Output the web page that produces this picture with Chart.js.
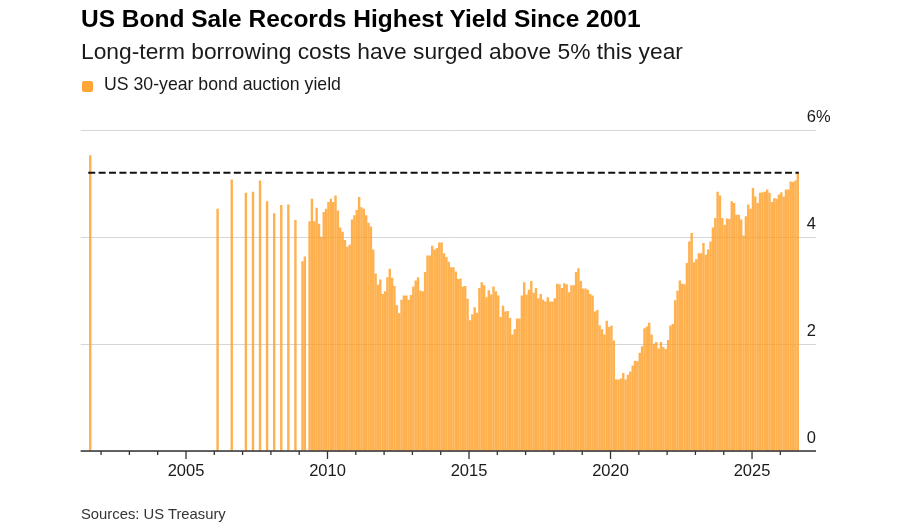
<!DOCTYPE html>
<html>
<head>
<meta charset="utf-8">
<script src="https://cdn.jsdelivr.net/npm/chart.js@4/dist/chart.umd.min.js"></script>
<style>
html,body{margin:0;padding:0;background:#fff;}
#wrap{position:relative;width:900px;height:531px;overflow:hidden;font-family:"Liberation Sans",Arial,Helvetica,sans-serif;}
#c{position:absolute;left:0;top:0;}
.t{position:absolute;white-space:nowrap;line-height:1;}
#title{left:81px;top:6.6px;font-size:24.5px;font-weight:bold;color:#000;}
#subtitle{left:81px;top:40.2px;font-size:22.8px;color:#1a1a1a;}
#legsw{position:absolute;left:82px;top:81px;width:11px;height:11px;border-radius:2px;background:#ffa635;}
#legtx{left:104px;top:75.8px;font-size:17.7px;color:#1a1a1a;}
#source{left:81px;top:506.8px;font-size:14.8px;color:#333;}
</style>
</head>
<body>
<div id="wrap">
  <canvas id="c" width="900" height="531"></canvas>
  <div class="t" id="title">US Bond Sale Records Highest Yield Since 2001</div>
  <div class="t" id="subtitle">Long-term borrowing costs have surged above 5% this year</div>
  <div id="legsw"></div>
  <div class="t" id="legtx">US 30-year bond auction yield</div>
  <div class="t" id="source">Sources: US Treasury</div>
</div>
<script>
// ---- Data ----
// Sparse auctions before monthly issuance resumed
const earlyMonths = ["2001-08","2006-02","2006-08","2007-02","2007-05","2007-08","2007-11","2008-02","2008-05","2008-08","2008-11"];
const earlyYields = [5.52, 4.52, 5.07, 4.82, 4.84, 5.05, 4.66, 4.44, 4.59, 4.60, 4.31];

// Monthly auctions starting Feb 2009 (null = no auction that month)
const monthlyStart = "2009-02";
const yields2009 = [3.54, 3.63, null, 4.29, 4.71, 4.29, 4.54, 4.24, 4.00, 4.46, 4.52];
const yields2010 = [4.65, 4.71, 4.65, 4.77, 4.49, 4.17, 4.09, 3.94, 3.81, 3.85, 4.32, 4.40];
const yields2011 = [4.50, 4.74, 4.55, 4.52, 4.40, 4.26, 4.19, 3.76, 3.31, 3.10, 3.20, 2.93];
const yields2012 = [2.98, 3.24, 3.40, 3.23, 3.08, 2.72, 2.57, 2.82, 2.90, 2.90, 2.82, 2.91];
const yields2013 = [3.07, 3.18, 3.24, 2.99, 2.98, 3.34, 3.65, 3.65, 3.83, 3.76, 3.79, 3.89];
const yields2014 = [3.89, 3.69, 3.62, 3.53, 3.43, 3.43, 3.35, 3.21, 3.22, 3.07, 3.08, 2.84];
const yields2015 = [2.44, 2.55, 2.68, 2.58, 3.04, 3.15, 3.09, 2.87, 3.00, 2.92, 3.07, 2.98];
const yields2016 = [2.90, 2.50, 2.71, 2.60, 2.61, 2.48, 2.17, 2.27, 2.47, 2.47, 2.90, 3.15];
const yields2017 = [2.92, 3.01, 3.17, 2.95, 3.04, 2.85, 2.93, 2.82, 2.79, 2.87, 2.79, 2.79];
const yields2018 = [2.85, 3.12, 3.11, 3.04, 3.13, 3.11, 2.96, 3.09, 3.09, 3.34, 3.41, 3.17];
const yields2019 = [3.03, 3.03, 3.01, 2.93, 2.90, 2.60, 2.63, 2.34, 2.27, 2.17, 2.43, 2.31];
const yields2020 = [2.34, 2.06, 1.33, 1.33, 1.35, 1.45, 1.33, 1.42, 1.48, 1.59, 1.68, 1.67];
const yields2021 = [1.83, 1.95, 2.29, 2.32, 2.39, 2.17, 2.00, 2.03, 1.91, 2.03, 1.94, 1.90];
const yields2022 = [2.07, 2.34, 2.37, 2.81, 2.99, 3.18, 3.12, 3.11, 3.51, 3.91, 4.07, 3.52];
const yields2023 = [3.58, 3.69, 3.69, 3.88, 3.66, 3.76, 3.91, 4.17, 4.35, 4.84, 4.77, 4.35];
const yields2024 = [4.22, 4.34, 4.33, 4.66, 4.63, 4.41, 4.41, 4.32, 4.02, 4.38, 4.60, 4.52];
const yields2025 = [4.91, 4.75, 4.63, 4.82, 4.83, 4.84, 4.88, 4.82, 4.65, 4.72, 4.71, 4.79];
const yields2026 = [4.83, 4.75, 4.88, 4.88, 5.03, 5.02, 5.05, 5.20];

const latestLevel = 5.20;             // dashed reference line
const yTicks = [0, 2, 4, 6];
const xLabelYears = [2005, 2010, 2015, 2020, 2025];
const firstTickYear = 2002, lastTickYear = 2026;

// ---- Build point table ----
function monthToYear(s) {
  const [y, m] = s.split("-").map(Number);
  return y + (m - 0.6) / 12;
}
const monthlyYields = [].concat(yields2009, yields2010, yields2011, yields2012, yields2013,
  yields2014, yields2015, yields2016, yields2017, yields2018, yields2019, yields2020,
  yields2021, yields2022, yields2023, yields2024, yields2025, yields2026);

const points = [];
earlyMonths.forEach((m, i) => points.push({ x: monthToYear(m), y: earlyYields[i] }));
const [sy, sm] = monthlyStart.split("-").map(Number);
monthlyYields.forEach((v, i) => {
  if (v === null) return;
  const mi = sm - 1 + i;
  const yr = sy + Math.floor(mi / 12);
  const mo = (mi % 12) + 1;
  points.push({ x: monthToYear(yr + "-" + String(mo).padStart(2, "0")), y: v });
});

const FONT = '"Liberation Sans", Arial, Helvetica, sans-serif';

const decor = {
  id: 'decor',
  afterDatasetsDraw(chart) {
    const { ctx, chartArea: a } = chart;
    const x = chart.scales.x, y = chart.scales.y;
    ctx.save();
    // dashed latest-level line
    const x0 = x.getPixelForValue(points[0].x) - 2;
    const x1 = x.getPixelForValue(points[points.length - 1].x) + 1;
    const yl = y.getPixelForValue(latestLevel);
    ctx.setLineDash([7, 3.4]);
    ctx.lineWidth = 2;
    ctx.strokeStyle = '#111';
    ctx.beginPath(); ctx.moveTo(x0, yl); ctx.lineTo(x1, yl); ctx.stroke();
    ctx.setLineDash([]);
    // axis line
    ctx.strokeStyle = '#333';
    ctx.lineWidth = 1.5;
    ctx.beginPath(); ctx.moveTo(a.left, a.bottom); ctx.lineTo(a.right, a.bottom); ctx.stroke();
    // ticks
    ctx.lineWidth = 1.3;
    ctx.beginPath();
    for (let yr = firstTickYear; yr <= lastTickYear; yr++) {
      const px = x.getPixelForValue(yr);
      const major = xLabelYears.includes(yr);
      ctx.moveTo(px, a.bottom);
      ctx.lineTo(px, a.bottom + (major ? 8 : 4));
    }
    ctx.stroke();
    // x labels
    ctx.fillStyle = '#1a1a1a';
    ctx.font = '16.5px ' + FONT;
    ctx.textBaseline = 'alphabetic';
    ctx.textAlign = 'center';
    xLabelYears.forEach(yr => ctx.fillText(String(yr), x.getPixelForValue(yr), a.bottom + 24.5));
    // y labels
    const maxT = Math.max(...yTicks);
    yTicks.forEach(v => {
      const py = y.getPixelForValue(v) - 8;
      ctx.textAlign = 'right';
      ctx.fillText(String(v), a.right, py);
      if (v === maxT) { ctx.textAlign = 'left'; ctx.fillText('%', a.right, py); }
    });
    ctx.restore();
  }
};

new Chart(document.getElementById('c').getContext('2d'), {
  type: 'bar',
  data: {
    datasets: [{
      data: points,
      backgroundColor: 'rgba(255,158,36,0.8)',
      borderWidth: 0,
      barThickness: 1.75
    }]
  },
  options: {
    responsive: false,
    animation: false,
    devicePixelRatio: 1,
    layout: { padding: { left: 80.7, right: 84, top: 130, bottom: 80 } },
    plugins: { legend: { display: false }, tooltip: { enabled: false } },
    scales: {
      x: {
        type: 'linear', min: 2001.28, max: 2027.26, display: false,
        offset: false, grid: { offset: false }
      },
      y: {
        position: 'right', min: 0, max: 6,
        afterBuildTicks: s => { s.ticks = yTicks.map(v => ({ value: v })); },
        grid: { color: '#d6d6d6', lineWidth: 1, drawTicks: false },
        border: { display: false },
        ticks: { display: false }
      }
    }
  },
  plugins: [decor]
});
</script>
</body>
</html>
